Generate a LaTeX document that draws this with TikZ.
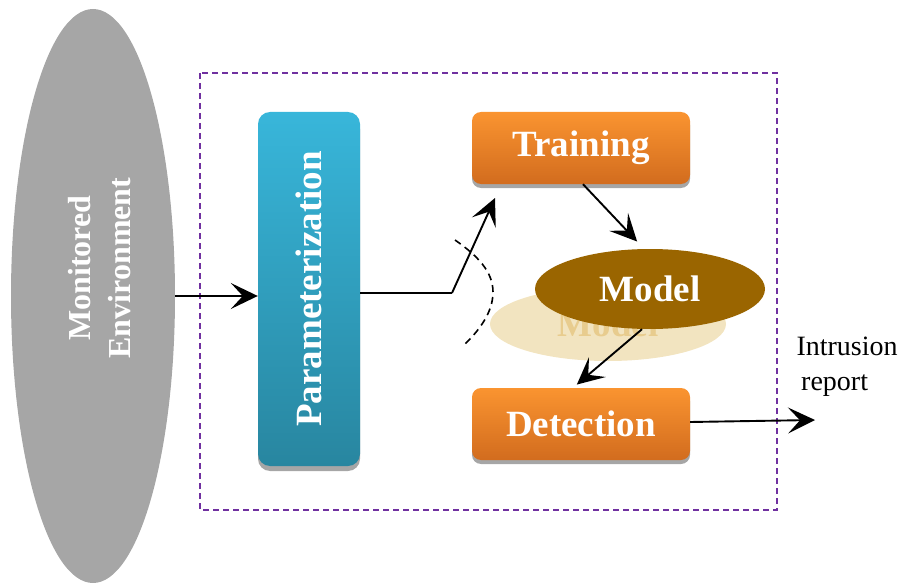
\documentclass[tikz,border=0pt]{standalone}
\usepackage{fontspec}
\setmainfont{Liberation Serif}
\usetikzlibrary{shapes, arrows.meta, positioning, calc, shadows}
\definecolor{envgray}{RGB}{166, 166, 166}
\definecolor{partop}{RGB}{56, 182, 218}
\definecolor{parbot}{RGB}{40, 134, 160}
\definecolor{orgtop}{RGB}{250, 148, 48}
\definecolor{orgbot}{RGB}{210, 108, 30}
\definecolor{modbrown}{RGB}{154, 101, 0}
\definecolor{modfade}{RGB}{242, 228, 192}
\definecolor{modfadetxt}{RGB}{232, 204, 142}
\definecolor{boxpurple}{RGB}{112, 48, 160}

\begin{document}
\begin{tikzpicture}[x=1pt, y=-1pt,
  bigtxt/.style={text=white, font=\bfseries\fontsize{37}{40}\selectfont},
  stage/.style={rounded corners=9pt, minimum width=218pt, minimum height=72pt,
              top color=orgtop, bottom color=orgbot, bigtxt,
              drop shadow={shadow xshift=0pt, shadow yshift=-4pt, fill=gray!70, opacity=1}},
  arr/.style={-{Stealth[length=27pt, width=26pt, inset=12pt]}, line width=1.9pt}
]
  \useasboundingbox (0,0) rectangle (906,586);

  % frame of the detector
  \draw[boxpurple, line width=1.5pt, dash pattern=on 6pt off 4pt] (200,73) rectangle (777,510);

  % monitored environment
  \node[ellipse, fill=envgray, minimum width=164pt, minimum height=574pt, inner sep=0pt] (env) at (93,296) {};
  \node[rotate=90, align=center, bigtxt, font=\bfseries\fontsize{32}{40}\selectfont] (envtxt) at (100,268) {Monitored\\Environment};

  % parameterization
  \node[rounded corners=12pt, minimum width=102pt, minimum height=354pt,
        top color=partop, bottom color=parbot,
        drop shadow={shadow xshift=0pt, shadow yshift=-5pt, fill=gray!70, opacity=1}] (par) at (309,289) {};
  \node[rotate=90, bigtxt] (partxt) at (par.center) {Parameterization};

  % training / detection
  \node[stage] (trn) at (581,148) {Training};
  \node[stage] (det) at (581,424) {Detection};

  % model and its shade
  \node[ellipse, fill=modfade, minimum width=236pt, minimum height=74pt, text=modfadetxt,
        font=\bfseries\fontsize{37}{40}\selectfont] (mdlshade) at (608,324) {Model};
  \node[ellipse, fill=modbrown, minimum width=230pt, minimum height=80pt, bigtxt] (mdl) at (650,289) {Model};

  \coordinate (bend) at (452,293);
  \coordinate (up) at (495,198);
  \coordinate (rep) at (815,420);

  \draw[arr] (env.east) -- (env.east -| par.west);
  \draw[line width=1.9pt] (par.east |- bend) -- (bend);
  \draw[arr] (bend) -- (up);
  \draw[line width=1.6pt, dash pattern=on 7pt off 5pt]
    (455,240) .. controls (478,256) and (493,272) .. (493,292)
              .. controls (493,312) and (480,330) .. (462,347);
  \draw[arr, shorten >=10pt] ([xshift=2pt]trn.south) -- ([xshift=-6pt]mdl.north);
  \draw[arr, shorten >=5pt] ([xshift=-8pt]mdl.south) -- ([xshift=-8pt]det.north);
  \draw[arr] ([yshift=2pt]det.east) -- (rep);

  \node[anchor=west, align=left, font=\fontsize{28}{35}\selectfont] (intr) at (793,367) {Intrusion\\\,report};
\end{tikzpicture}
\end{document}
